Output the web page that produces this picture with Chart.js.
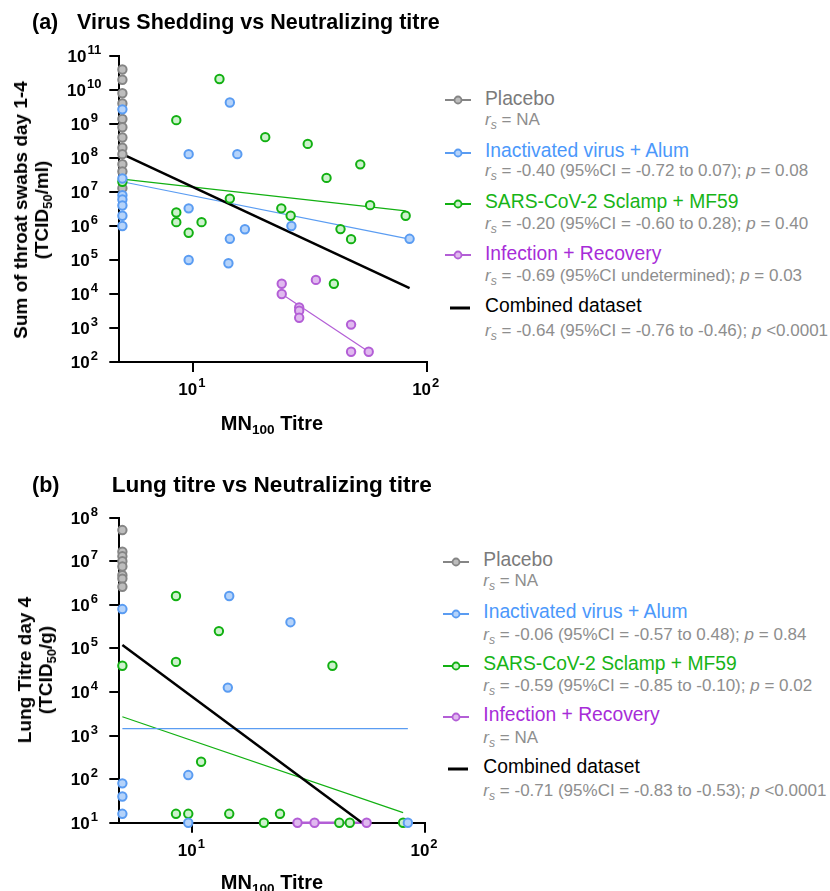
<!DOCTYPE html>
<html>
<head>
<meta charset="utf-8">
<title>Virus shedding and lung titre vs neutralizing titre</title>
<script src="https://cdn.jsdelivr.net/npm/chart.js@4.4.1/dist/chart.umd.min.js"></script>
<style>
  body { margin: 0; background: #fff; font-family: 'Liberation Sans', Arial, sans-serif; }
  #page { position: relative; width: 830px; height: 891px; overflow: hidden; }
  #page canvas { position: absolute; left: 0; }
  .txt { position: absolute; white-space: nowrap; line-height: 1; }
  .ytitle { position: absolute; font-weight: bold; font-size: 19px; line-height: 21px; text-align: center;
            white-space: nowrap; transform: translate(-50%, -50%) rotate(-90deg); }
  sub { font-size: 0.68em; vertical-align: -0.3em; line-height: 0; }
  .stat sub { font-size: 0.72em; vertical-align: -0.35em; }
  .marker { position: absolute; }
</style>
</head>
<body>
<div id="page">
  <canvas id="chartA" width="440" height="440" style="top:0px"></canvas>
  <canvas id="chartB" width="440" height="441" style="top:450px"></canvas>
</div>
<script>
// ---- data ----

const xTicks = [10, 100];
const yTicksShed = [1e2, 1e3, 1e4, 1e5, 1e6, 1e7, 1e8, 1e9, 1e10, 1e11];
const yTicksLung = [1e1, 1e2, 1e3, 1e4, 1e5, 1e6, 1e7, 1e8];

// (a) throat swab shedding, TCID50/ml
const placeboShedX = [5, 5, 5, 5, 5, 5, 5, 5, 5, 5, 5, 5];
const placeboShedY = [4e10, 2e10, 8e9, 4e9, 1.4e9, 8e8, 4e8, 2e8, 1.3e8, 6.6e7, 4e7, 1.3e7];

const alumShedX = [5, 5, 5, 5, 5, 5, 5, 14.4, 9.6, 15.5, 9.6, 26.4, 16.7, 14.4, 84.5, 9.6, 14.2];
const alumShedY = [2.7e9, 2.5e7, 8e6, 6e6, 4e6, 2e6, 1e6, 4.3e9, 1.3e8, 1.3e8, 3.3e6, 1e6, 8e5, 4.2e5, 4.2e5, 1e5, 8e4];

const sclampShedX = [5, 13, 8.5, 20.4, 31, 52, 37.3, 14.4, 57.3, 81.3, 23.9, 26.2, 8.5, 8.5, 10.9, 9.6, 42.8, 47.5, 40.1];
const sclampShedY = [2e7, 2.1e10, 1.3e9, 4.1e8, 2.6e8, 6.5e7, 2.6e7, 6.4e6, 4.1e6, 2e6, 3.3e6, 2e6, 2.5e6, 1.3e6, 1.3e6, 6.3e5, 8.1e5, 4.1e5, 2e4];

const recoveryShedX = [24, 24, 33.6, 28.5, 28.5, 28.5, 47.5, 47.5, 56.5];
const recoveryShedY = [2e4, 1e4, 2.6e4, 4e3, 3.2e3, 2e3, 1.26e3, 2e2, 2e2];

// fitted lines (end points)
const combinedShedFitX = [5, 84.5];
const combinedShedFitY = [1.3e8, 1.5e4];
const alumShedFitX = [5, 84.5];
const alumShedFitY = [2e7, 4.1e5];
const sclampShedFitX = [5, 81.3];
const sclampShedFitY = [2.4e7, 2.8e6];
const recoveryShedFitX = [24, 56.5];
const recoveryShedFitY = [1e4, 2e2];

// (b) lung titre day 4, TCID50/g
const placeboLungX = [5, 5, 5, 5, 5, 5, 5, 5];
const placeboLungY = [5.2e7, 1.66e7, 1.3e7, 1e7, 7.6e6, 4.8e6, 4e6, 2.6e6];

const alumLungX = [5, 5, 5, 5, 14.4, 26.4, 14.2, 9.6, 9.6, 84.4];
const alumLungY = [8e5, 80, 40, 16, 1.6e6, 4e5, 1.26e4, 124, 10, 10];

const sclampLungX = [5, 8.5, 13, 8.5, 40, 10.9, 8.5, 9.6, 14.4, 23.8, 20.3, 42.8, 47.5, 80.5];
const sclampLungY = [4e4, 1.6e6, 2.5e5, 4.9e4, 4e4, 250, 16, 16, 16, 16, 10, 10, 10, 10];

const recoveryLungX = [28.3, 33.5, 56.1];
const recoveryLungY = [10, 10, 10];

const combinedLungFitX = [5, 53.6];
const combinedLungFitY = [1.2e5, 10];
const alumLungFitX = [5, 84.4];
const alumLungFitY = [1.45e3, 1.45e3];
const sclampLungFitX = [5, 80.5];
const sclampLungFitY = [2.7e3, 17];
const recoveryLungFitX = [28.3, 56.1];
const recoveryLungFitY = [10, 10];

// legend text
const groupNames = ['Placebo', 'Inactivated virus + Alum', 'SARS-CoV-2 Sclamp + MF59', 'Infection + Recovery', 'Combined dataset'];
const statsShed = [
    'NA',
    '-0.40 (95%CI = -0.72 to 0.07); <i>p</i> = 0.08',
    '-0.20 (95%CI = -0.60 to 0.28); <i>p</i> = 0.40',
    '-0.69 (95%CI undetermined); <i>p</i> = 0.03',
    '-0.64 (95%CI = -0.76 to -0.46); <i>p</i> &lt;0.0001'
];
const statsLung = [
    'NA',
    '-0.06 (95%CI = -0.57 to 0.48); <i>p</i> = 0.84',
    '-0.59 (95%CI = -0.85 to -0.10); <i>p</i> = 0.02',
    'NA',
    '-0.71 (95%CI = -0.83 to -0.53); <i>p</i> &lt;0.0001'
];

// ---- styling ----
const FONT = '"Liberation Sans", Arial, sans-serif';
const colors = {
    placebo:  { line: '#858585', fill: '#bdbdbd', text: '#7b7b7b' },
    alum:     { line: '#5a9cf2', fill: '#b5d3fa', text: '#4b98fb' },
    sclamp:   { line: '#12b012', fill: '#cdf2cd', text: '#17b417' },
    recovery: { line: '#b35ed6', fill: '#e0b9ef', text: '#a72cd8' },
    combined: { line: '#000000', fill: '#000000', text: '#000000' }
};

Chart.defaults.font.family = FONT;

function zip(xs, ys) {
    return xs.map((x, i) => ({ x: x, y: ys[i] }));
}

function pointSet(xs, ys, col, order) {
    return {
        data: zip(xs, ys),
        showLine: false,
        pointRadius: 4.2,
        pointBorderWidth: 2,
        pointBackgroundColor: col.fill,
        pointBorderColor: col.line,
        order: order,
        clip: false
    };
}

function fitLine(xs, ys, color, width) {
    return {
        data: zip(xs, ys),
        showLine: true,
        pointRadius: 0,
        borderColor: color,
        borderWidth: width,
        order: 10,
        clip: false
    };
}

// draws "10" with a raised exponent
function drawPower(ctx, value, cx, baseline) {
    const exp = String(Math.round(Math.log10(value)));
    ctx.font = 'bold 17px ' + FONT;
    const wb = ctx.measureText('10').width;
    ctx.font = 'bold 13px ' + FONT;
    const we = ctx.measureText(exp).width;
    const gap = 1;
    const left = cx - (wb + gap + we) / 2;
    ctx.font = 'bold 17px ' + FONT;
    ctx.fillText('10', left, baseline);
    ctx.font = 'bold 13px ' + FONT;
    ctx.fillText(exp, left + wb + gap, baseline - 8);
}

const powerTickLabels = {
    id: 'powerTickLabels',
    afterDraw(chart) {
        const { ctx, chartArea, scales } = chart;
        ctx.save();
        ctx.fillStyle = '#000';
        ctx.textAlign = 'left';
        ctx.textBaseline = 'alphabetic';
        scales.y.ticks.forEach(t => {
            drawPower(ctx, t.value, chartArea.left - 35, scales.y.getPixelForValue(t.value) + 6);
        });
        scales.x.ticks.forEach(t => {
            drawPower(ctx, t.value, scales.x.getPixelForValue(t.value) - 1, chartArea.bottom + 33);
        });
        ctx.restore();
    }
};

function axisOptions(ticks, min, max, fitKey, fitSize) {
    return {
        type: 'logarithmic',
        min: min,
        max: max,
        afterBuildTicks: scale => { scale.ticks = ticks.map(v => ({ value: v })); },
        afterFit: scale => { scale[fitKey] = fitSize; },
        ticks: { display: false },
        grid: { drawOnChartArea: false, drawTicks: true, tickLength: 10, color: '#000', lineWidth: 2 },
        border: { display: true, color: '#000', width: 2 }
    };
}

function makePanel(canvasId, datasets, yTicks, yMin, yMax, padding, xHeight) {
    const ctx = document.getElementById(canvasId).getContext('2d');
    return new Chart(ctx, {
        type: 'scatter',
        data: { datasets: datasets },
        options: {
            responsive: false,
            animation: false,
            layout: { padding: padding },
            plugins: { legend: { display: false }, tooltip: { enabled: false } },
            scales: {
                x: axisOptions(xTicks, 4.85, 100, 'height', xHeight),
                y: axisOptions(yTicks, yMin, yMax, 'width', 119.3)
            }
        },
        plugins: [powerTickLabels]
    });
}

makePanel('chartA', [
    pointSet(alumShedX, alumShedY, colors.alum, 1),
    pointSet(sclampShedX, sclampShedY, colors.sclamp, 2),
    pointSet(recoveryShedX, recoveryShedY, colors.recovery, 3),
    pointSet(placeboShedX, placeboShedY, colors.placebo, 4),
    fitLine(combinedShedFitX, combinedShedFitY, '#000', 2.5),
    fitLine(alumShedFitX, alumShedFitY, colors.alum.line, 1.2),
    fitLine(sclampShedFitX, sclampShedFitY, colors.sclamp.line, 1.2),
    fitLine(recoveryShedFitX, recoveryShedFitY, colors.recovery.line, 1.2)
], yTicksShed, 1e2, 1e11, { top: 56, right: 13.3, bottom: 0, left: 0 }, 78);

makePanel('chartB', [
    pointSet(alumLungX, alumLungY, colors.alum, 1),
    pointSet(sclampLungX, sclampLungY, colors.sclamp, 2),
    pointSet(recoveryLungX, recoveryLungY, colors.recovery, 3),
    pointSet(placeboLungX, placeboLungY, colors.placebo, 4),
    fitLine(combinedLungFitX, combinedLungFitY, '#000', 2.5),
    fitLine(alumLungFitX, alumLungFitY, colors.alum.line, 1.2),
    fitLine(sclampLungFitX, sclampLungFitY, colors.sclamp.line, 1.2),
    fitLine(recoveryLungFitX, recoveryLungFitY, colors.recovery.line, 2.5)
], yTicksLung, 1e1, 1e8, { top: 67.7, right: 15, bottom: 0, left: 0 }, 68.3);

// ---- text around the charts ----
const page = document.getElementById('page');

function addText(html, x, baseline, size, style, center) {
    const el = document.createElement('div');
    el.className = 'txt';
    el.innerHTML = html;
    el.style.fontSize = size + 'px';
    el.style.left = x + 'px';
    el.style.top = (baseline - 0.8465 * size) + 'px';
    if (center) el.style.transform = 'translateX(-50%)';
    Object.assign(el.style, style || {});
    page.appendChild(el);
    return el;
}

function addYTitle(html, cx, cy) {
    const el = document.createElement('div');
    el.className = 'ytitle';
    el.innerHTML = html;
    el.style.left = cx + 'px';
    el.style.top = cy + 'px';
    page.appendChild(el);
}

function addMarker(x, y, col, isLine) {
    const el = document.createElement('div');
    el.className = 'marker';
    el.style.left = x + 'px';
    el.style.top = (y - 6) + 'px';
    if (isLine) {
        el.innerHTML = '<svg width="28" height="12"><line x1="5" y1="6" x2="25" y2="6" stroke="#000" stroke-width="3"/></svg>';
    } else {
        el.innerHTML = '<svg width="28" height="12"><line x1="0" y1="6" x2="26" y2="6" stroke="' + col.line +
            '" stroke-width="2"/><circle cx="13" cy="6" r="3.5" fill="' + col.fill + '" stroke="' + col.line +
            '" stroke-width="1.8"/></svg>';
    }
    page.appendChild(el);
}

function addLegend(textX, markerX, nameBaselines, statBaselines, stats) {
    const cols = [colors.placebo, colors.alum, colors.sclamp, colors.recovery, colors.combined];
    groupNames.forEach((name, i) => {
        addMarker(markerX, nameBaselines[i] - 6.7, cols[i], i === 4);
        addText(name, textX, nameBaselines[i], 19.3, { color: cols[i].text });
        const s = addText('<i>r</i><sub><i>s</i></sub> = ' + stats[i], textX, statBaselines[i], 17, { color: '#8e8e8e' });
        s.classList.add('stat');
    });
}

// panel titles
addText('(a)', 32, 30, 21.5, { fontWeight: 'bold' });
addText('Virus Shedding vs Neutralizing titre', 77, 30, 21.5, { fontWeight: 'bold' });
addText('(b)', 32, 493, 21.5, { fontWeight: 'bold' });
addText('Lung titre vs Neutralizing titre', 111.7, 493, 22.6, { fontWeight: 'bold' });

// axis titles
addYTitle('Sum of throat swabs day 1-4<br>(TCID<sub>50</sub>/ml)', 30.6, 210);
addYTitle('Lung Titre day 4<br>(TCID<sub>50</sub>/g)', 35, 670);
addText('MN<sub>100</sub> Titre', 272, 430, 20, { fontWeight: 'bold' }, true);
addText('MN<sub>100</sub> Titre', 272, 889, 20, { fontWeight: 'bold' }, true);

// legends
addLegend(485, 445, [105, 157.3, 208.3, 260, 312.7], [125, 176.7, 229.3, 281.7, 336.7], statsShed);
addLegend(483.3, 443.3, [566.7, 618.3, 670.7, 721.7, 773.3], [586.7, 640, 691.7, 743.3, 796.7], statsLung);
</script>
</body>
</html>
